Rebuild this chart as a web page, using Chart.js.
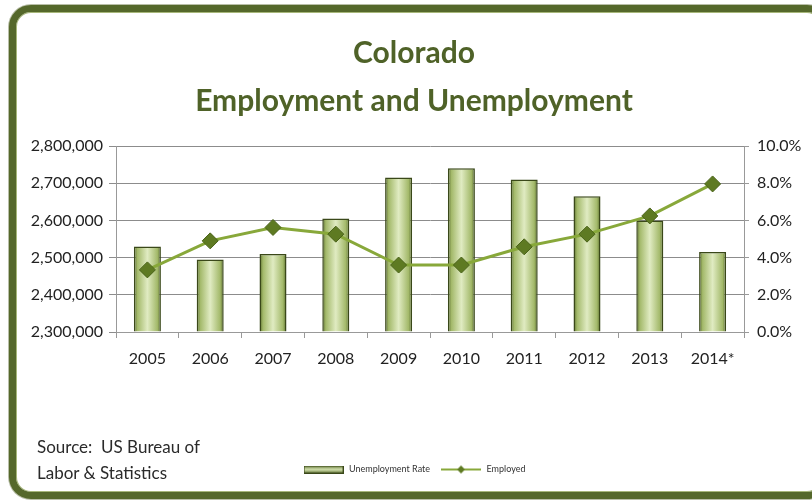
<!DOCTYPE html>
<html>
<head>
<meta charset="utf-8">
<script src="https://cdn.jsdelivr.net/npm/chart.js@4.4.1/dist/chart.umd.min.js"></script>
<style>
  html, body { margin: 0; padding: 0; background: #fff; }
  #wrap { position: relative; width: 812px; height: 502px; overflow: hidden; background: #fff; }
  #frame {
    position: absolute; left: 9px; top: 5px; width: 820px; height: 494px;
    box-sizing: border-box; border: 7px solid #55682b; border-radius: 22px;
    box-shadow: inset 0 0 0 1px #a7b77a, 0 0 0 1px #b9bfa8;
    background: #fff;
  }
  #chart { position: absolute; left: 0; top: 0; }
  #source {
    position: absolute; left: 37px; top: 434px;
    font: 17px Lato, "Open Sans", sans-serif; line-height: 26px; color: #2a2a2a;
  }
</style>
</head>
<body>
<div id="wrap">
  <div id="frame"></div>
  <canvas id="chart" width="812" height="502"></canvas>
  <div id="source">Source:&nbsp; US Bureau of<br>Labor &amp; Statistics</div>
</div>
<script>
// ----------------------
// Data
// ----------------------
const years = ['2005', '2006', '2007', '2008', '2009', '2010', '2011', '2012', '2013', '2014*'];
const unemploymentRate = [4.6, 3.9, 4.2, 6.1, 8.3, 8.8, 8.2, 7.3, 6.0, 4.3];   // percent
const employed = [2467000, 2545000, 2581000, 2563000, 2480000, 2480000, 2529000, 2563000, 2612000, 2698000];

const olive = '#4f6228';
const lineGreen = '#88a83a';
const diamondGreen = '#5e7a22';
const baseFont = 'Lato, "Open Sans", sans-serif';

// small swatches for the legend
function barSwatch(){
  const c = document.createElement('canvas');
  c.width = 40; c.height = 8;
  const g = c.getContext('2d');
  const grad = g.createLinearGradient(0, 0, 0, 8);
  grad.addColorStop(0, '#56692a'); grad.addColorStop(0.5, '#d8e6b4'); grad.addColorStop(1, '#56692a');
  g.fillStyle = grad; g.fillRect(0, 0, 40, 8);
  g.strokeStyle = '#3a4819'; g.strokeRect(0.5, 0.5, 39, 7);
  return c;
}
function lineSwatch(){
  const c = document.createElement('canvas');
  c.width = 40; c.height = 10;
  const g = c.getContext('2d');
  g.strokeStyle = lineGreen; g.lineWidth = 2;
  g.beginPath(); g.moveTo(0, 5); g.lineTo(40, 5); g.stroke();
  g.fillStyle = diamondGreen;
  g.beginPath(); g.moveTo(20, 1); g.lineTo(24, 5); g.lineTo(20, 9); g.lineTo(16, 5); g.closePath(); g.fill();
  return c;
}

// shaded fill across each bar's width (bars are dataset 1)
const barShading = {
  id: 'barShading',
  beforeDatasetsDraw(chart){
    const ctx = chart.ctx;
    const meta = chart.getDatasetMeta(1);
    meta.data.forEach(bar => {
      if (!isFinite(bar.x) || !isFinite(bar.width)) return;
      const x0 = bar.x - bar.width / 2, x1 = bar.x + bar.width / 2;
      const grad = ctx.createLinearGradient(x0, 0, x1, 0);
      grad.addColorStop(0, '#56692a');
      grad.addColorStop(0.13, '#a3b96a');
      grad.addColorStop(0.5, '#e0ebc2');
      grad.addColorStop(0.87, '#a3b96a');
      grad.addColorStop(1, '#56692a');
      bar.options.backgroundColor = grad;
    });
  }
};

new Chart(document.getElementById('chart'), {
  data: {
    labels: years,
    datasets: [
      {
        type: 'line', label: 'Employed', data: employed, yAxisID: 'yEmp',
        borderColor: lineGreen, borderWidth: 3,
        pointStyle: 'rectRot', pointRadius: 8, pointHoverRadius: 8,
        pointBackgroundColor: diamondGreen, pointBorderColor: '#4a6319', pointBorderWidth: 1,
        order: 0
      },
      {
        type: 'bar', label: 'Unemployment Rate', data: unemploymentRate, yAxisID: 'yRate',
        backgroundColor: () => '#c5da94', borderColor: '#3a4819', borderWidth: 1.5,
        barPercentage: 0.43, categoryPercentage: 1,
        order: 1
      }
    ]
  },
  plugins: [barShading],
  options: {
    responsive: false,
    animation: false,
    layout: { padding: { left: 20, right: 4, top: 29, bottom: 18 } },
    plugins: {
      title: {
        display: true,
        text: ['Colorado', 'Employment and Unemployment'],
        color: olive,
        font: { family: baseFont, size: 30, weight: 'bold', lineHeight: 1.6 },
        padding: { top: 0, bottom: 21 }
      },
      legend: {
        position: 'bottom',
        labels: {
          usePointStyle: true, pointStyleWidth: 42,
          color: '#333', font: { family: baseFont, size: 9 }, padding: 10,
          generateLabels(chart){
            return [
              { text: 'Unemployment Rate', pointStyle: barSwatch(), datasetIndex: 1, fontColor: '#333', lineWidth: 0, strokeStyle: 'transparent' },
              { text: 'Employed', pointStyle: lineSwatch(), datasetIndex: 0, fontColor: '#333', lineWidth: 0, strokeStyle: 'transparent' }
            ];
          }
        }
      },
      tooltip: { enabled: false }
    },
    scales: {
      x: {
        offset: true,
        grid: { display: true, drawOnChartArea: false, offset: true, tickLength: 6, color: '#999' },
        border: { color: '#999' },
        ticks: { color: '#222', font: { family: baseFont, size: 16 }, padding: 11 },
        afterFit(s){ s.height = 123; }
      },
      yEmp: {
        position: 'left', min: 2300000, max: 2800000,
        grid: { color: '#8c8c8c', tickLength: 7 },
        border: { color: '#999' },
        ticks: {
          stepSize: 100000, color: '#222', font: { family: baseFont, size: 16 }, padding: 6,
          callback: v => v.toLocaleString('en-US')
        },
        afterFit(s){ s.width = 96; }
      },
      yRate: {
        position: 'right', min: 0, max: 10,
        grid: { drawOnChartArea: false, tickLength: 5, color: '#999' },
        border: { color: '#999' },
        ticks: {
          stepSize: 2, color: '#222', font: { family: baseFont, size: 16 }, padding: 8,
          callback: v => v.toFixed(1) + '%'
        },
        afterFit(s){ s.width = 64; }
      }
    }
  }
});
</script>
</body>
</html>
